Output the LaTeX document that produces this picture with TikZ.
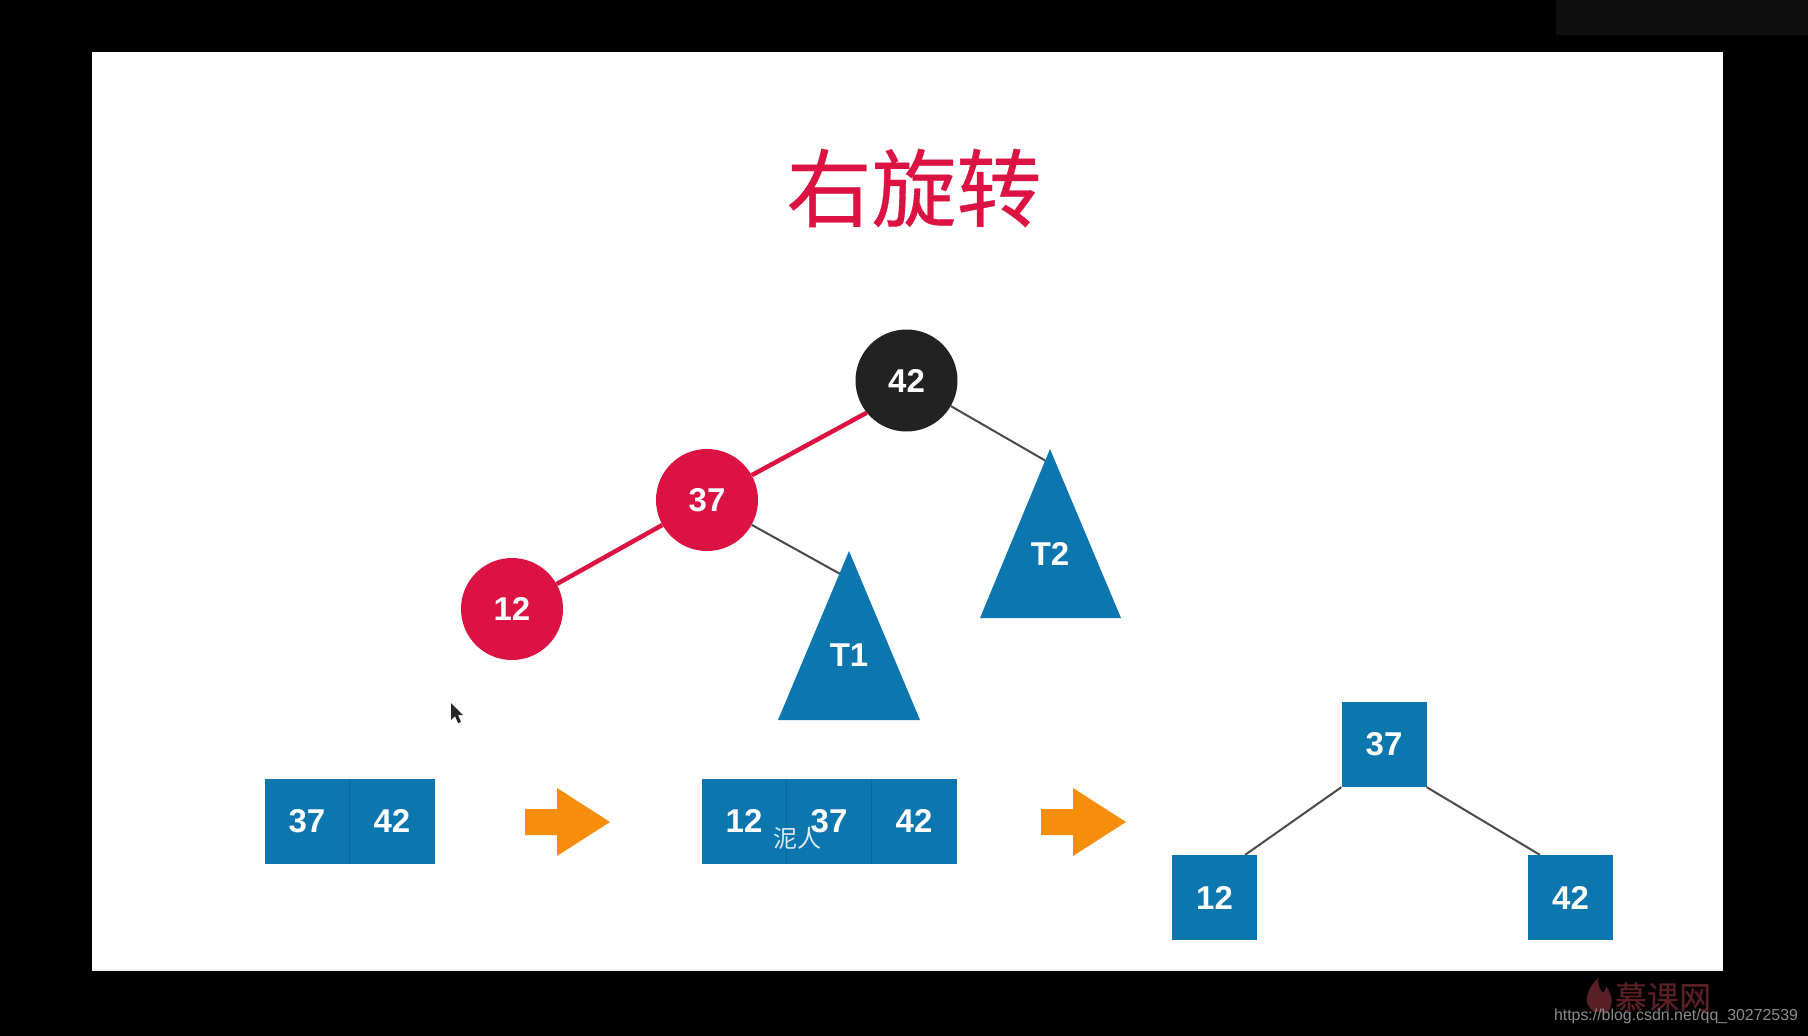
\documentclass[tikz,border=0pt]{standalone}
\usepackage{fontspec}
\setmainfont{Liberation Sans}
\newfontfamily\cjkfont{Noto Sans CJK SC}
\newfontfamily\cjktitle[FakeBold=0.4]{Noto Sans CJK SC}
\definecolor{boxblue}{HTML}{0C76AE}
\definecolor{redn}{HTML}{DC1242}
\definecolor{blackn}{HTML}{222222}
\definecolor{orangea}{HTML}{F78E0B}
\definecolor{edgegrey}{HTML}{4A4A4A}
\definecolor{wmred}{HTML}{5A1F25}
\tikzset{
  circnode/.style={circle,minimum size=102pt,inner sep=0pt,text=white,font=\fontsize{33}{33}\selectfont\bfseries},
  sq/.style={rectangle,fill=boxblue,minimum width=85pt,minimum height=85pt,inner sep=0pt,text=white,font=\fontsize{33}{33}\selectfont\bfseries},
  trilabel/.style={text=white,inner sep=0pt,font=\fontsize{33}{33}\selectfont\bfseries},
  redge/.style={draw=redn,line width=4.5pt},
  gedge/.style={draw=edgegrey,line width=2pt},
  tri/.style={fill=boxblue},
  bigarrow/.style={fill=orangea},
  divider/.style={draw=boxblue!88!black,line width=.6pt}
}
\begin{document}
\begin{tikzpicture}[x=1pt,y=-1pt]
\useasboundingbox (0,0) rectangle (1808,1036);
\fill[black] (0,0) rectangle (1808,1036);
\fill[white] (92,52) rectangle (1722.5,970);
\fill[black!6!white] (92,969) rectangle (1722.5,971);
\fill[black!94!white] (1556,0) rectangle (1808,35);
\node[text=redn,font=\cjktitle\fontsize{85}{85}\selectfont,inner sep=0pt] (title) at (914,188) {右旋转};
% connector ends (hidden beneath the triangles)
\coordinate (targetA) at (842,575);
\coordinate (targetB) at (1046,461);
\node[circnode] (n42) at (906.5,380.5) {};
\node[circnode] (n37) at (707,500) {};
\node[circnode] (n12) at (512,609) {};
\draw[redge] (n42.219) -- (n37.29);
\draw[redge] (n37) -- (n12);
\draw[gedge] (n42) -- (targetB);
\draw[gedge] (n37) -- (targetA);
\fill[tri] (1050,449) -- (1121,618) -- (980,618) -- cycle;
\fill[tri] (849,551) -- (920,720) -- (778,720) -- cycle;
\node[trilabel] (t2) at (1050,554) {T2};
\node[trilabel] (t1) at (849,655) {T1};
\node[circnode,fill=blackn] (c42n) at (n42) {42};
\node[circnode,fill=redn] (c37n) at (n37) {37};
\node[circnode,fill=redn] (c12n) at (n12) {12};
% cursor
\fill[black!85] (451,703) -- (451,720) -- (455,716) -- (458,723) -- (461,722) -- (458,715) -- (463,715) -- cycle;
% first row
\node[sq] (a37) at (307,821.3) {37};
\node[sq] (a42) at (392,821.3) {42};
\fill[bigarrow] (525,809) -- (557,809) -- (557,788) -- (610,822) -- (557,856) -- (557,835) -- (525,835) -- cycle;
\node[sq] (b12) at (744,821.3) {12};
\node[sq] (b37) at (829,821.3) {37};
\node[sq] (b42) at (914,821.3) {42};
\fill[bigarrow] (1041,809) -- (1073,809) -- (1073,788) -- (1126,822) -- (1073,856) -- (1073,835) -- (1041,835) -- cycle;
\draw[divider] (a37.north east) -- (a37.south east);
\draw[divider] (b12.north east) -- (b12.south east);
\draw[divider] (b37.north east) -- (b37.south east);
% right tree
\node[sq] (c37) at (1384,744.5) {37};
\node[sq] (c12) at (1214.5,897.5) {12};
\node[sq] (c42) at (1570.5,897.5) {42};
\draw[gedge] (c37.south west) -- ([xshift=-12pt]c12.north east);
\draw[gedge] (c37.south east) -- ([xshift=12pt]c42.north west);
% watermarks
\node[text=white!85!boxblue,font=\cjkfont\fontsize{24}{24}\selectfont,inner sep=0pt] (wm) at (797,838) {泥人};
\fill[wmred] (1594,1012) .. controls (1582,1004) and (1586,990) .. (1598,978) .. controls (1598,986) and (1600,990) .. (1603,993) .. controls (1606,990) and (1606,988) .. (1606,986) .. controls (1612,994) and (1614,1004) .. (1608,1012) -- cycle;
\node[text=wmred,font=\cjktitle\fontsize{32}{32}\selectfont,inner sep=0pt] (mk) at (1663,997) {慕课网};
\node[text=black!45!white,font=\fontsize{15.9}{18}\selectfont,inner sep=0pt] (url) at (1676,1016) {https://blog.csdn.net/qq\_30272539};
\end{tikzpicture}
\end{document}
